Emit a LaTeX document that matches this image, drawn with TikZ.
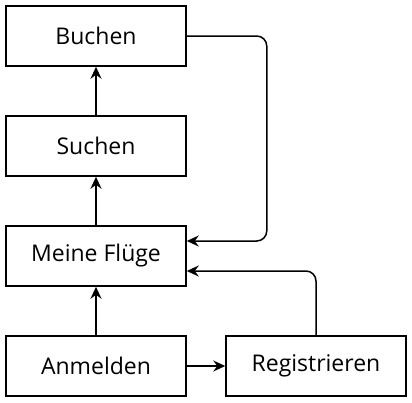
\documentclass[tikz,border=0pt]{standalone}
\usepackage{fontspec}
\setmainfont{Open Sans}
\usetikzlibrary{arrows.meta,positioning}

\begin{document}
\begin{tikzpicture}[
  x=1pt, y=-1pt,
  font=\fontsize{23pt}{27pt}\selectfont,
  box/.style={draw, line width=1.5pt, minimum width=180pt, minimum height=60pt, inner sep=0pt},
  arrow/.style={-{Stealth[length=12pt, width=11pt, inset=4pt]}, line width=1.5pt},
  node distance=48.5pt and 38.5pt
]
\useasboundingbox (0,0) rectangle (412,402);

\node[box] (buchen) at (96,36) {Buchen};
\node[box, below=of buchen] (suchen) {Suchen};
\node[box, below=of suchen] (fluege) {Meine Flüge};
\node[box, below=of fluege] (anmelden) {Anmelden};
\node[box, right=of anmelden] (registrieren) {Registrieren};

\draw[arrow] (anmelden) -- (fluege);
\draw[arrow] (fluege) -- (suchen);
\draw[arrow] (suchen) -- (buchen);
\draw[arrow] (anmelden) -- (registrieren);
\draw[arrow, rounded corners=10pt] (buchen.east) -- ++(80,0) |- ([yshift=15pt]fluege.east);
\draw[arrow, rounded corners=10pt] (registrieren.north) |- ([yshift=-15pt]fluege.east);

\end{tikzpicture}
\end{document}
